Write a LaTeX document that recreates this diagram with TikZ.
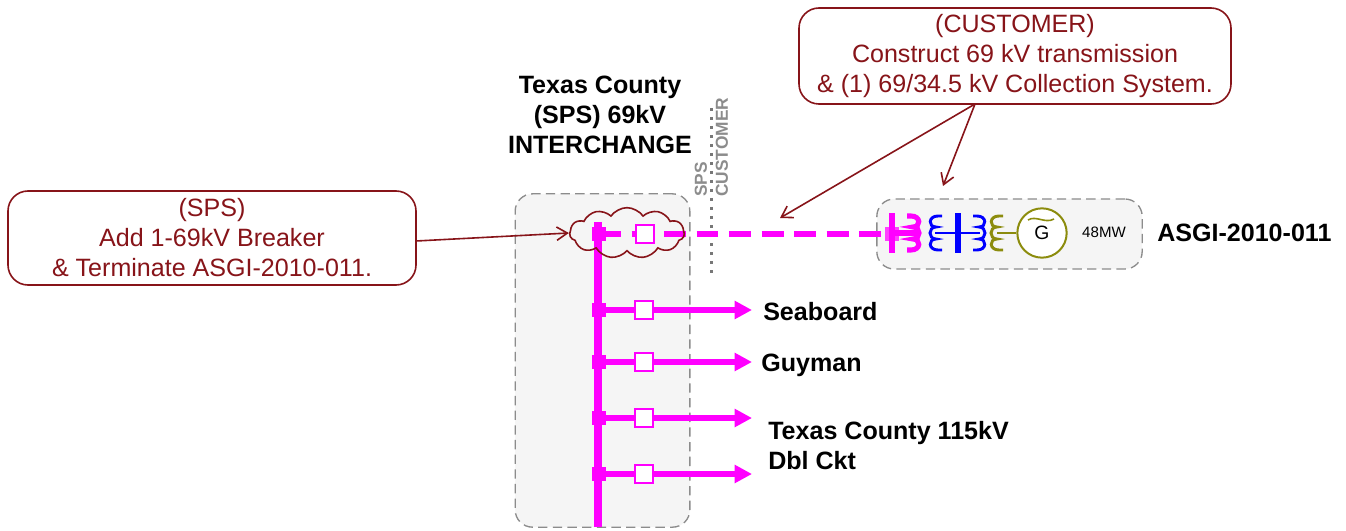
\documentclass[tikz,border=0pt]{standalone}
\usepackage{fontspec}
\setmainfont{Liberation Sans}
\usetikzlibrary{arrows.meta}
\usetikzlibrary{shapes.symbols}
\definecolor{note}{rgb}{0.53, 0.08, 0.10}
\definecolor{bus}{rgb}{1, 0, 1}
\definecolor{zone}{rgb}{0.96, 0.96, 0.96}
\definecolor{edge}{rgb}{0.55, 0.55, 0.55}
\definecolor{gen}{rgb}{0.55, 0.55, 0.05}
\newcommand{\mainsize}{\fontsize{18.8}{22.5}\selectfont}
\tikzset{
  notebox/.style={draw=note, rounded corners=15pt, line width=1.2pt, fill=white, text=note, align=center, font=\mainsize, inner sep=0pt},
  zonebox/.style={draw=edge, dash pattern=on 7pt off 4pt, rounded corners=13pt, line width=1pt, fill=zone, inner sep=0pt},
  title/.style={font=\mainsize\bfseries, align=center, inner sep=0pt},
  busname/.style={font=\mainsize\bfseries, align=left, inner sep=0pt},
  sidelabel/.style={font=\fontsize{13}{13}\selectfont\bfseries, text=edge, rotate=90, inner sep=0pt},
  breaker/.style={draw=bus, fill=white, line width=1pt, minimum size=13.5pt, inner sep=0pt},
  stub/.style={fill=bus, minimum width=10pt, minimum height=11pt, inner sep=0pt},
  feeder/.style={draw=bus, line width=4.4pt},
  notearrow/.style={draw=note, line width=1.2pt, -{Straight Barb[length=8pt,width=10pt]}},
  coilbar/.style={minimum width=4.5pt, minimum height=30pt, inner sep=0pt},
  coil/.pic={
    \path [pic actions, fill=none] (0,-17) -- (4,-17) .. controls (14,-17) and (14,-6) .. (6,-6)
      .. controls (14,-6) and (14,6) .. (6,6) .. controls (14,6) and (14,17) .. (4,17) -- (0,17);
  }
}
\begin{document}
\begin{tikzpicture}[x=0.75pt, y=-0.75pt]
\useasboundingbox (0, 0) rectangle (1346, 531);
% zones
\node [zonebox, minimum width=131pt, minimum height=250pt] (station) at (602.5, 360.5) {};
\node [zonebox, minimum width=199pt, minimum height=52.5pt] (plant) at (1009.5, 234) {};
% sps / customer divider
\coordinate (divtop) at (711.5, 108);
\coordinate (divbot) at (711.5, 274);
\draw [edge!85!black, line width=2pt, dash pattern=on 2pt off 4.75pt] (divtop) -- (divbot);
\node [sidelabel, anchor=west] (spslabel) at (701, 197) {SPS};
\node [sidelabel, anchor=west] (custlabel) at (722, 197) {CUSTOMER};
% bus
\coordinate (bustop) at (598, 222);
\coordinate (busbot) at (598, 527);
\draw [bus, line width=6pt] (bustop) -- (busbot);
\node [stub] (stub0) at (599, 234) {};
\node [stub] (stub1) at (599, 310) {};
\node [stub] (stub2) at (599, 362) {};
\node [stub] (stub3) at (599, 418) {};
\node [stub] (stub4) at (599, 474) {};
% feeders
\node [breaker] (brk1) at (644, 310) {};
\node [breaker] (brk2) at (644, 362) {};
\node [breaker] (brk3) at (644, 418) {};
\node [breaker] (brk4) at (644, 474) {};
\coordinate (end1) at (752, 310);
\coordinate (end2) at (752, 362);
\coordinate (end3) at (752, 418);
\coordinate (end4) at (752, 474);
\draw [feeder] (stub1) -- (brk1);
\draw [feeder] (stub2) -- (brk2);
\draw [feeder] (stub3) -- (brk3);
\draw [feeder] (stub4) -- (brk4);
\draw [feeder, -{Triangle[length=13pt,width=13pt]}] (brk1) -- (end1);
\draw [feeder, -{Triangle[length=13pt,width=13pt]}] (brk2) -- (end2);
\draw [feeder, -{Triangle[length=13pt,width=13pt]}] (brk3) -- (end3);
\draw [feeder, -{Triangle[length=13pt,width=13pt]}] (brk4) -- (end4);
\node [busname, anchor=west] (seaboard) at (763, 312) {Seaboard};
\node [busname, anchor=west] (guyman) at (761, 365) {Guyman};
\node [busname, anchor=north west] (texas) at (768, 421) {Texas County 115kV\\Dbl Ckt};
% new line into the plant
\node [stub, fill=bus!75!white, minimum width=11pt] (gentie) at (892, 234) {};
\draw [feeder, line width=5pt, dash pattern=on 16.4pt off 8pt] (stub0.center) -- (gentie);
\node [breaker] (brk0) at (645, 234) {};
\node [coilbar, fill=bus] (hvbar) at (892, 233) {};
\coordinate (hvtap) at (918, 233);
\draw [bus, line width=4.4pt] (hvbar) -- (hvtap);
\pic [draw=bus, line width=3.8pt] at (907, 233) {coil};
% main transformer
\node [coilbar, fill=blue] (lvbar) at (958, 233) {};
\coordinate (lvtapa) at (935, 233);
\coordinate (lvtapb) at (980, 233);
\draw [blue, line width=2.2pt] (lvtapa) -- (lvtapb);
\pic [draw=blue, line width=2.2pt, xscale=-1] at (942, 233) {coil};
\pic [draw=blue, line width=2.2pt] at (973, 233) {coil};
% generator
\node [draw=gen, fill=white, line width=1.5pt, circle, minimum size=37pt, inner sep=0pt, font=\fontsize{14.5}{14.5}\selectfont] (genset) at (1042, 233) {G};
\coordinate (gentap) at (997, 233);
\draw [gen, line width=2.2pt] (gentap) -- (genset);
\pic [draw=gen, line width=2.2pt, xscale=-1] at (1003, 233) {coil};
\draw [gen, line width=1.2pt] (1028, 220) .. controls (1036, 215) and (1045, 224) .. (1054, 219);
\node [font=\fontsize{11.3}{11.3}\selectfont, inner sep=0pt] (rating) at (1104, 232) {48MW};
\node [busname, anchor=west] (asgi) at (1157, 233) {ASGI-2010-011};
% station title
\node [title] (stationname) at (600, 115) {Texas County\\(SPS) 69kV\\INTERCHANGE};
% notes
\node [draw=note, line width=1.2pt, shape=cloud, cloud puffs=11, cloud puff arc=110, aspect=2.2, minimum width=86pt, minimum height=38pt, inner sep=0pt] (sparkle) at (627, 233) {};
\node [notebox, minimum width=306pt, minimum height=70.5pt] (spsnote) at (212, 238) {(SPS)\\Add 1-69kV Breaker\\\& Terminate ASGI-2010-011.};
\node [notebox, minimum width=324pt, minimum height=72pt] (custnote) at (1015, 56) {(CUSTOMER)\\Construct 69 kV transmission\\\& (1) 69/34.5 kV Collection System.};
\coordinate (custfoot) at (975, 104);
\coordinate (linetip) at (780, 218);
\coordinate (plantip) at (943, 186);
\coordinate (spsfoot) at (416, 241);
\draw [notearrow] (custfoot) -- (linetip);
\draw [notearrow] (custfoot) -- (plantip);
\draw [notearrow] (spsfoot) -- (sparkle.west);
\end{tikzpicture}
\end{document}
